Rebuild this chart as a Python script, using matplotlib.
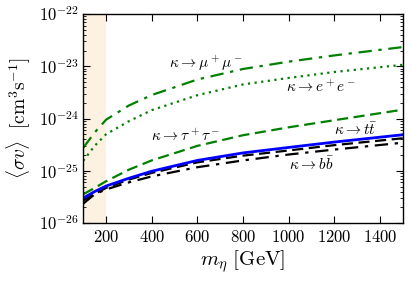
import math
import matplotlib
matplotlib.use('Agg')
import matplotlib.pyplot as plt
from matplotlib.ticker import FixedLocator, FuncFormatter, LogLocator, NullFormatter

plt.rcParams['mathtext.fontset'] = 'cm'

# masses in GeV
m_eta = [100, 150, 200, 300, 400, 600, 800, 1000, 1200, 1500]

# <sigma v> in cm^3 s^-1
sv_mumu = [2.75e-25, 5.4e-25, 9.5e-25, 1.78e-24, 2.82e-24, 5.6e-24, 8.9e-24, 1.23e-23, 1.62e-23, 2.34e-23]
sv_ee = [1.55e-25, 3.0e-25, 5.0e-25, 8.9e-25, 1.45e-24, 2.8e-24, 4.5e-24, 6.0e-24, 7.8e-24, 1.07e-23]
sv_tautau = [3.55e-26, 4.7e-26, 6.3e-26, 1.05e-25, 1.58e-25, 3.0e-25, 4.8e-25, 6.8e-25, 9.3e-25, 1.48e-24]
sv_tt = [3.0e-26, 4.0e-26, 5.1e-26, 7.2e-26, 9.8e-26, 1.58e-25, 2.2e-25, 2.8e-25, 3.55e-25, 4.9e-25]
sv_bb_dash = [2.7e-26, 3.6e-26, 4.7e-26, 6.8e-26, 9.1e-26, 1.45e-25, 1.95e-25, 2.45e-25, 3.1e-25, 4.2e-25]
sv_bb_dashdot = [2.35e-26, 3.55e-26, 4.4e-26, 6.0e-26, 7.8e-26, 1.17e-25, 1.58e-25, 2.05e-25, 2.55e-25, 3.45e-25]

x_ticks = [200, 400, 600, 800, 1000, 1200, 1400]
y_ticks = [1e-26, 1e-25, 1e-24, 1e-23, 1e-22]
excluded_range = (100, 200)

fig = plt.figure(figsize=(4.12, 2.85), dpi=100)
ax = fig.add_axes([0.202, 0.2175, 0.776, 0.733])

# zone exclue (bande orange pâle)
ax.axvspan(*excluded_range, color='#fdf2e1', lw=0, zorder=0)

green = (0, 0.5, 0)
ax.plot(m_eta, sv_mumu, color=green, lw=1.6, ls=(0, (6, 3, 1.5, 3)))
ax.plot(m_eta, sv_ee, color=green, lw=1.6, ls=(0, (1, 2)))
ax.plot(m_eta, sv_tautau, color=green, lw=1.6, ls=(0, (5, 2.5)))
ax.plot(m_eta, sv_bb_dashdot, color='k', lw=1.6, ls=(0, (6, 3, 1.5, 3)))
ax.plot(m_eta, sv_bb_dash, color='k', lw=1.6, ls=(0, (5, 2.5)))
ax.plot(m_eta, sv_tt, color='b', lw=2.0)

ax.set_yscale('log')
ax.set_xlim(100, 1500)
ax.set_ylim(1e-26, 1e-22)

ax.xaxis.set_major_locator(FixedLocator(x_ticks))
ax.xaxis.set_major_formatter(FuncFormatter(lambda v, p: r'$%d$' % v))
ax.yaxis.set_major_locator(FixedLocator(y_ticks))
ax.yaxis.set_minor_locator(LogLocator(base=10, subs=range(2, 10), numticks=20))
ax.yaxis.set_minor_formatter(NullFormatter())
ax.yaxis.set_major_formatter(FuncFormatter(lambda v, p: r'$10^{%d}$' % round(math.log10(v))))

ax.tick_params(which='both', direction='in', top=True, right=True, labelsize=12)
ax.tick_params(which='major', length=5, width=0.8)
ax.tick_params(which='minor', length=2.5, width=0.6)
for s in ax.spines.values():
    s.set_linewidth(1.0)

ax.set_xlabel(r'$m_\eta\ [\mathrm{GeV}]$', fontsize=15, labelpad=2)
ax.set_ylabel(r'$\langle\sigma v\rangle\ \ [\mathrm{cm}^3\mathrm{s}^{-1}]$', fontsize=14, labelpad=4)

txt = dict(fontsize=11, ha='center', va='center')
ax.text(638, 1.15e-23, r'$\kappa\rightarrow\mu^+\mu^-$', **txt)
ax.text(1141, 4.0e-24, r'$\kappa\rightarrow e^+e^-$', **txt)
ax.text(546, 4.7e-25, r'$\kappa\rightarrow\tau^+\tau^-$', **txt)
ax.text(1294, 6.0e-25, r'$\kappa\rightarrow t\bar{t}$', **txt)
ax.text(1100, 1.35e-25, r'$\kappa\rightarrow b\bar{b}$', **txt)

fig.savefig('out.png', dpi=100)
